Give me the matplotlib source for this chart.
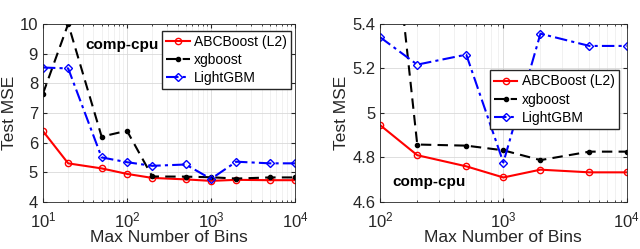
import matplotlib.pyplot as plt
from matplotlib.ticker import LogLocator, NullFormatter

plt.rcParams['font.family'] = ['Liberation Sans', 'DejaVu Sans']

bins = [10, 20, 50, 100, 200, 500, 1000, 2000, 5000, 10000]
abc = [6.39, 5.30, 5.13, 4.945, 4.81, 4.76, 4.71, 4.745, 4.733, 4.733]
xgb = [7.64, 10.0, 6.20, 6.40, 4.858, 4.853, 4.832, 4.788, 4.826, 4.826]
lgbm = [8.53, 8.50, 5.50, 5.34, 5.217, 5.262, 4.777, 5.356, 5.301, 5.301]

fig = plt.figure(figsize=(6.4, 2.49), dpi=100)
ax1 = fig.add_axes([0.067, 0.189, 0.394, 0.715])
ax2 = fig.add_axes([0.594, 0.189, 0.385, 0.715])


def draw(ax, start):
    x = bins[start:]
    ax.plot(x, abc[start:], color='red', lw=1.5, marker='o', ms=4.5,
            mfc='none', mew=1.0, label='ABCBoost (L2)')
    ax.plot(x, xgb[start:], color='black', lw=1.5, ls=(0, (5, 3)), marker='.',
            ms=6, label='xgboost')
    ax.plot(x, lgbm[start:], color='blue', lw=1.5, ls=(0, (6, 2, 1.5, 2)), marker='D',
            ms=4, mfc='none', mew=1.0, label='LightGBM')
    ax.set_xscale('log')
    ax.xaxis.set_major_locator(LogLocator(base=10, numticks=10))
    ax.xaxis.set_minor_locator(LogLocator(base=10, subs=range(2, 10), numticks=20))
    ax.xaxis.set_minor_formatter(NullFormatter())
    ax.grid(True, which='major', color='#d9d9d9', lw=0.6)
    ax.grid(True, which='minor', axis='x', color='#ececec', lw=0.5)
    ax.set_axisbelow(True)
    ax.tick_params(which='both', direction='in', labelsize=12, top=True, right=True,
                   colors='#262626', labelcolor='#262626')
    ax.tick_params(which='major', length=3)
    ax.tick_params(axis='x', which='major', pad=6)
    ax.tick_params(which='minor', length=1.5)
    for s in ax.spines.values():
        s.set_color('#262626')
        s.set_linewidth(0.6)
    ax.set_xlabel('Max Number of Bins', fontsize=12.5, color='#262626', labelpad=0)
    ax.set_ylabel('Test MSE', fontsize=12.5, color='#262626', labelpad=2)


leg_kw = dict(fontsize=10, fancybox=False, edgecolor='#262626', framealpha=1,
              handlelength=1.7, borderpad=0.3, labelspacing=0.3, handletextpad=0.3,
              borderaxespad=0.3)

draw(ax1, 0)
ax1.set_xlim(10, 10000)
ax1.set_ylim(4, 10)
ax1.set_yticks([4, 5, 6, 7, 8, 9, 10])
ax1.text(0.17, 0.88, 'comp-cpu', transform=ax1.transAxes, fontsize=11,
         fontweight='bold', ha='left', va='center')
ax1.legend(loc='upper right', bbox_to_anchor=(1.0, 0.985), **leg_kw)

draw(ax2, 3)
ax2.set_xlim(100, 10000)
ax2.set_ylim(4.6, 5.4)
ax2.set_yticks([4.6, 4.8, 5.0, 5.2, 5.4])
ax2.set_yticklabels(['4.6', '4.8', '5', '5.2', '5.4'])
ax2.text(0.05, 0.11, 'comp-cpu', transform=ax2.transAxes, fontsize=11,
         fontweight='bold', ha='left', va='center')
ax2.legend(loc='center right', bbox_to_anchor=(0.985, 0.575), **leg_kw)

fig.savefig('out.png', dpi=100)
